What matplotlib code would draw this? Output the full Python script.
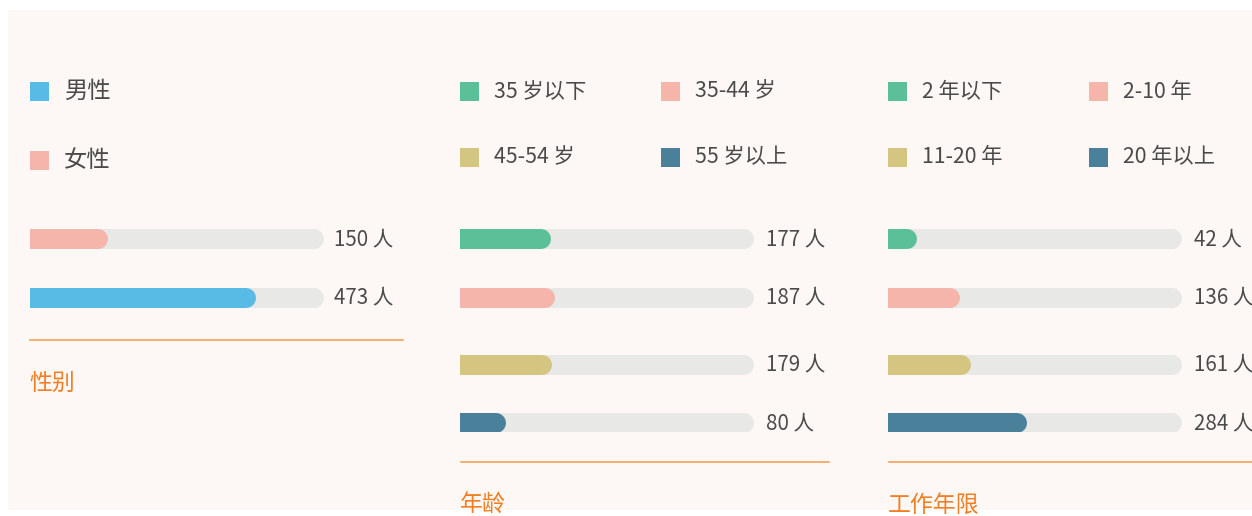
import matplotlib.pyplot as plt
from matplotlib.patches import Rectangle

plt.rcParams['font.family'] = ['Noto Sans CJK SC', 'DejaVu Sans']

W, H = 1252, 516

# ---- data ----
gender_labels = ['男性', '女性']
gender_values = [473, 150]
gender_colors = ['#58bbe5', '#f5b5ab']
gender_bar_order = [1, 0]          # bars show 女性 first, then 男性

age_labels = ['35 岁以下', '35-44 岁', '45-54 岁', '55 岁以上']
age_values = [177, 187, 179, 80]

tenure_labels = ['2 年以下', '2-10 年', '11-20 年', '20 年以上']
tenure_values = [42, 136, 161, 284]

four_colors = ['#5bbf98', '#f5b5ab', '#d4c581', '#4a8099']

titles = ['性别', '年龄', '工作年限']

TRACK = '#e8e8e6'
TEXT = '#4a4a4a'
ORANGE = '#f07e22'
LINE = '#f29a4a'

fig = plt.figure(figsize=(W / 100, H / 100), dpi=100)
fig.patch.set_facecolor('white')

# overlay axes in pixel units for decoration (background, legends, rules, titles)
ov = fig.add_axes([0, 0, 1, 1], zorder=0)
ov.set_xlim(0, W); ov.set_ylim(H, 0)
ov.axis('off')
ov.add_patch(Rectangle((8, 10), W - 8, 500, color='#fdf8f5', lw=0))


def px_axes(x0, y0, x1, y1):
    return fig.add_axes([x0 / W, 1 - y1 / H, (x1 - x0) / W, (y1 - y0) / H], zorder=1)


def bar_panel(x0, values, colors, order, label_gap=9.0):
    total = sum(values)
    track_px, cap_px, pitch = 294, 10, 58.5
    ax = px_axes(x0, 239 - 0.5 * pitch, x0 + track_px, 239 + 3.3 * pitch)
    ax.set_xlim(0, track_px / (track_px - cap_px))
    ax.set_ylim(3.3, -0.5)
    ax.axis('off')
    ax.patch.set_alpha(0)
    for i, k in enumerate(order):
        y = i + 0.15 * (i // 2)     # rows come in pairs with a little extra gap
        tr = ax.hlines(y, 0, 1, color=TRACK, lw=14.4)
        tr.set_capstyle('round')
        fl = ax.hlines(y, 0, values[k] / total, color=colors[k], lw=14.4)
        fl.set_capstyle('round')
        ax.annotate(f'{values[k]} 人', xy=(1, y), xycoords=('axes fraction', 'data'),
                    xytext=(label_gap, 0), textcoords='offset points',
                    ha='left', va='center', fontsize=14.8, color=TEXT)
    return ax


def legend_item(x, y, color, label, size=15.3, gap=15):
    ov.add_patch(Rectangle((x, y - 9.5), 19, 19, color=color, lw=0))
    ov.text(x + 19 + gap, y, label, ha='left', va='center', fontsize=size, color=TEXT)


# ---- gender panel ----
for j, (lab, c) in enumerate(zip(gender_labels, gender_colors)):
    legend_item(30, [91.5, 160.5][j], c, lab, size=16.8, gap=15)
bar_panel(30, gender_values, gender_colors, gender_bar_order, label_gap=7.0)
ov.plot([30, 403], [340, 340], color=LINE, lw=1.1)
ov.text(29, 383, titles[0], ha='left', va='center', fontsize=16.5, color=ORANGE)

# ---- age and tenure panels ----
for x0, labels, values, title, line_end in [(460, age_labels, age_values, titles[1], 829),
                                             (888, tenure_labels, tenure_values, titles[2], W)]:
    for j, lab in enumerate(labels):
        col, row = j % 2, j // 2
        legend_item(x0 + col * 201, [91.5, 157][row], four_colors[j], lab)
    bar_panel(x0, values, four_colors, range(len(values)))
    ov.plot([x0 + 1, line_end], [462, 462], color=LINE, lw=1.1)
    ov.text(x0, 505, title, ha='left', va='center', fontsize=16.5, color=ORANGE)

fig.savefig('out.png', dpi=100, facecolor='white')
